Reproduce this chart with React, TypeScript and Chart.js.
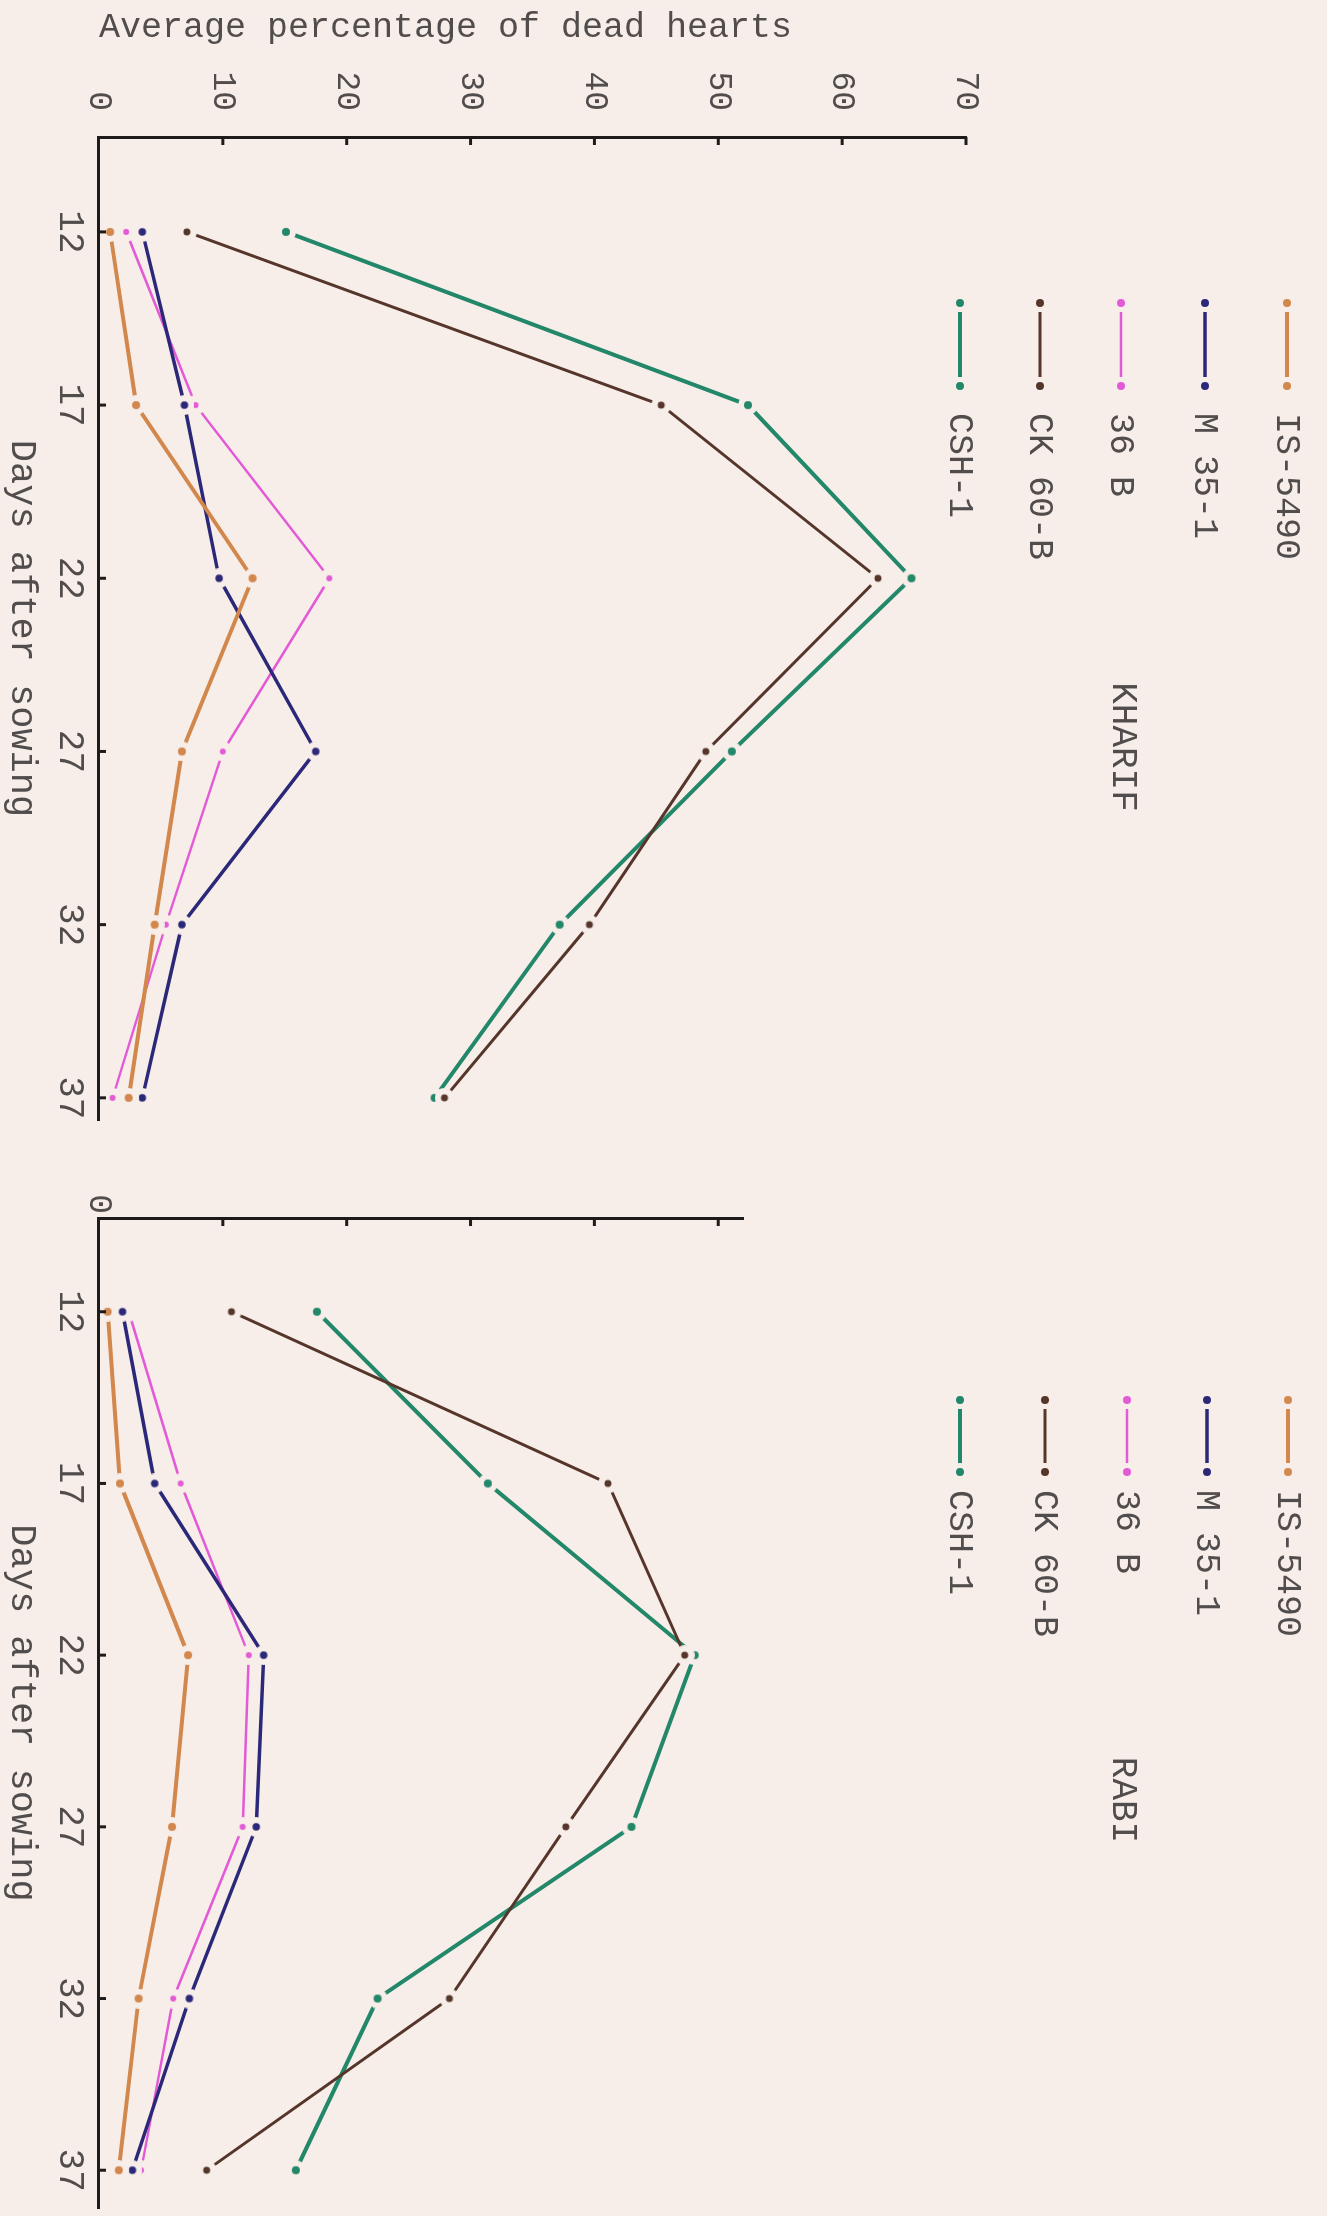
import React, { useEffect, useRef } from 'react';
import { Chart, registerables } from 'chart.js';

Chart.register(...registerables);

// ---------------- data ----------------
const days = [12, 17, 22, 27, 32, 37];
const dayLabels = ['12', '17', '22', '27', '32', '37'];
const varieties = ['IS-5490', 'M 35-1', '36 B', 'CK 60-B', 'CSH-1'];

const kharifIS5490 = [0.9, 3.0, 12.4, 6.7, 4.5, 2.4];
const kharifM351 = [3.5, 6.9, 9.7, 17.5, 6.7, 3.5];
const kharif36B = [2.2, 7.8, 18.6, 10.0, 5.4, 1.1];
const kharifCK60B = [7.1, 45.4, 62.9, 49.0, 39.6, 27.9];
const kharifCSH1 = [15.1, 52.4, 65.6, 51.1, 37.2, 27.1];

const rabiIS5490 = [0.7, 1.7, 7.2, 5.9, 3.2, 1.6];
const rabiM351 = [1.9, 4.5, 13.3, 12.7, 7.3, 2.7];
const rabi36B = [2.4, 6.6, 12.1, 11.6, 6.0, 3.4];
const rabiCK60B = [10.7, 41.1, 47.3, 37.7, 28.3, 8.7];
const rabiCSH1 = [17.6, 31.4, 48.1, 43.0, 22.5, 15.9];

const kharifValueTicks = [0, 10, 20, 30, 40, 50, 60, 70];
const kharifValueLabels = ['0', '10', '20', '30', '40', '50', '60', '70'];
const rabiValueTicks = [0, 10, 20, 30, 40, 50];
const rabiValueLabels = ['0', '', '', '', '', ''];

const yTitle = 'Average percentage of dead hearts';
const xTitle = 'Days after sowing';

// ---------------- styles ----------------
const FONT = "'Liberation Mono', 'DejaVu Sans Mono', monospace";
const PAPER = '#f7eee9';
const INK = '#1e1b1c';
const TYPE = '#514d4d';

const seriesStyle = [
  { color: '#d2874c', width: 4, dot: 4 },
  { color: '#2c2879', width: 3.5, dot: 3.8 },
  { color: '#e35ad6', width: 2.5, dot: 3 },
  { color: '#56362b', width: 3, dot: 3.5 },
  { color: '#23876a', width: 4, dot: 4 },
];

Chart.defaults.font.family = FONT;

function makeDot(color: string, r: number): HTMLCanvasElement {
  const c = document.createElement('canvas');
  const halo = 10;
  c.width = halo * 2;
  c.height = halo * 2;
  const g = c.getContext('2d')!;
  g.fillStyle = PAPER;
  g.beginPath();
  g.arc(halo, halo, halo, 0, Math.PI * 2);
  g.fill();
  g.fillStyle = color;
  g.beginPath();
  g.arc(halo, halo, r, 0, Math.PI * 2);
  g.fill();
  return c;
}

const panelDecor = {
  id: 'panelDecor',
  afterDraw(chart: any, _args: any, opts: any) {
    const { ctx } = chart;
    const xs = chart.scales.x;
    const ys = chart.scales.y;
    ctx.save();
    // inward tick marks
    ctx.strokeStyle = INK;
    ctx.lineWidth = 3;
    xs.ticks.forEach((t: any) => {
      const px = xs.getPixelForValue(t.value);
      ctx.beginPath();
      ctx.moveTo(px, xs.top);
      ctx.lineTo(px, xs.top - 7);
      ctx.stroke();
    });
    ys.ticks.forEach((t: any) => {
      if (t.value === 0) return;
      const py = ys.getPixelForValue(t.value);
      ctx.beginPath();
      ctx.moveTo(ys.right, py);
      ctx.lineTo(ys.right + 8, py);
      ctx.stroke();
    });
    // season label
    ctx.fillStyle = TYPE;
    ctx.font = `36px ${FONT}`;
    ctx.textBaseline = 'middle';
    ctx.textAlign = 'center';
    ctx.fillText(opts.season, opts.seasonX, opts.seasonY);
    // legend
    ctx.font = `35px ${FONT}`;
    chart.data.datasets.forEach((ds: any, i: number) => {
      const y = opts.legendY[i];
      const st = seriesStyle[i];
      ctx.fillStyle = st.color;
      ctx.strokeStyle = st.color;
      ctx.beginPath();
      ctx.arc(opts.markerX0, y, 4, 0, Math.PI * 2);
      ctx.fill();
      ctx.beginPath();
      ctx.arc(opts.markerX1, y, 4, 0, Math.PI * 2);
      ctx.fill();
      ctx.lineWidth = st.width;
      ctx.beginPath();
      ctx.moveTo(opts.markerX0 + 9, y);
      ctx.lineTo(opts.markerX1 - 9, y);
      ctx.stroke();
      ctx.fillStyle = TYPE;
      ctx.textAlign = 'left';
      ctx.fillText(ds.label, opts.textX, y + 1);
    });
    ctx.restore();
  },
};

type PanelSpec = {
  series: number[][];
  valueTicks: number[];
  valueLabels: string[];
  yMax: number;
  xMin: number;
  xMax: number;
  padTop: number;
  padRight: number;
  yAxisWidth: number;
  yTickPadding: number;
  showYTitle: boolean;
  decor: any;
};

const kharifSpec: PanelSpec = {
  series: [kharifIS5490, kharifM351, kharif36B, kharifCK60B, kharifCSH1],
  valueTicks: kharifValueTicks,
  valueLabels: kharifValueLabels,
  yMax: 70,
  xMin: 9.26,
  xMax: 37.64,
  padTop: 361,
  padRight: 40,
  yAxisWidth: 137,
  yTickPadding: 26,
  showYTitle: true,
  decor: {
    season: 'KHARIF', seasonX: 747, seasonY: 204,
    legendY: [40, 122, 206, 287, 367], markerX0: 303, markerX1: 386, textX: 413,
  },
};

const rabiSpec: PanelSpec = {
  series: [rabiIS5490, rabiM351, rabi36B, rabiCK60B, rabiCSH1],
  valueTicks: rabiValueTicks,
  valueLabels: rabiValueLabels,
  yMax: 52,
  xMin: 9.27,
  xMax: 38.1,
  padTop: 584,
  padRight: 0,
  yAxisWidth: 58,
  yTickPadding: 4,
  showYTitle: false,
  decor: {
    season: 'RABI', seasonX: 640, seasonY: 204,
    legendY: [39, 120, 200, 282, 367], markerX0: 240, markerX1: 312, textX: 330,
  },
};

function makeConfig(p: PanelSpec): any {
  return {
    type: 'line',
    data: {
      datasets: p.series.map((vals, i) => ({
        label: varieties[i],
        data: days.map((d, j) => ({ x: d, y: vals[j] })),
        borderColor: seriesStyle[i].color,
        backgroundColor: seriesStyle[i].color,
        borderWidth: seriesStyle[i].width,
        pointStyle: makeDot(seriesStyle[i].color, seriesStyle[i].dot),
        pointRadius: 4,
        pointHoverRadius: 4,
        tension: 0,
        fill: false,
        clip: false,
      })),
    },
    options: {
      animation: false,
      responsive: false,
      devicePixelRatio: 1,
      events: [],
      layout: { padding: { top: p.padTop, right: p.padRight, bottom: 0, left: 0 } },
      plugins: {
        legend: { display: false },
        tooltip: { enabled: false },
        panelDecor: p.decor,
      },
      scales: {
        x: {
          type: 'linear',
          position: 'bottom',
          min: p.xMin,
          max: p.xMax,
          afterBuildTicks: (s: any) => {
            s.ticks = days.map((v) => ({ value: v }));
          },
          afterFit: (s: any) => {
            s.height = 99;
          },
          grid: { display: false, drawTicks: false },
          border: { display: true, color: INK, width: 3, z: 1 },
          ticks: {
            autoSkip: false,
            maxRotation: 0,
            padding: 8,
            color: TYPE,
            font: { size: 36, family: FONT },
            callback: (_v: any, idx: number) => dayLabels[idx],
          },
          title: {
            display: true,
            text: xTitle,
            color: TYPE,
            font: { size: 37, family: FONT },
            padding: { top: 0, bottom: 0 },
          },
        },
        y: {
          type: 'linear',
          position: 'left',
          min: 0,
          max: p.yMax,
          afterBuildTicks: (s: any) => {
            s.ticks = p.valueTicks.map((v) => ({ value: v }));
          },
          afterFit: (s: any) => {
            s.width = p.yAxisWidth;
          },
          grid: { display: false, drawTicks: false },
          border: { display: true, color: INK, width: 3, z: 1 },
          ticks: {
            autoSkip: false,
            padding: p.yTickPadding,
            color: TYPE,
            font: { size: 33, family: FONT },
            callback: (_v: any, idx: number) => p.valueLabels[idx],
          },
          title: {
            display: p.showYTitle,
            text: yTitle,
            align: 'start',
            color: TYPE,
            font: { size: 35, family: FONT },
            padding: { top: 7, bottom: 0 },
          },
        },
      },
    },
    plugins: [panelDecor],
  };
}

export default function App() {
  const kRef = useRef<HTMLCanvasElement>(null);
  const rRef = useRef<HTMLCanvasElement>(null);

  useEffect(() => {
    document.body.style.margin = '0';
    document.body.style.background = PAPER;
    const c1 = new Chart(kRef.current as HTMLCanvasElement, makeConfig(kharifSpec));
    const c2 = new Chart(rRef.current as HTMLCanvasElement, makeConfig(rabiSpec));
    return () => {
      c1.destroy();
      c2.destroy();
    };
  }, []);

  return (
    <div style={{ position: 'relative', width: 1327, height: 2216, overflow: 'hidden', background: PAPER }}>
      <div
        style={{
          position: 'absolute',
          left: 0,
          top: 0,
          width: 2216,
          height: 1327,
          transformOrigin: '0 0',
          transform: 'translateX(1327px) rotate(90deg)',
        }}
      >
        <canvas
          ref={kRef}
          width={1160}
          height={1327}
          style={{ position: 'absolute', left: 0, top: 0, width: 1160, height: 1327 }}
        />
        <canvas
          ref={rRef}
          width={1056}
          height={1327}
          style={{ position: 'absolute', left: 1160, top: 0, width: 1056, height: 1327 }}
        />
      </div>
    </div>
  );
}
